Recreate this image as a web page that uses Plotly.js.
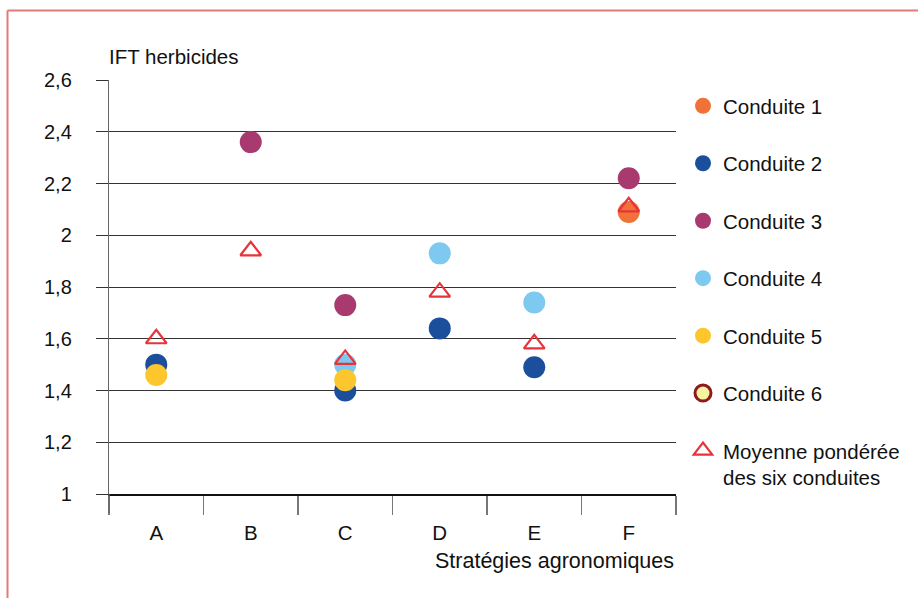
<!DOCTYPE html>
<html>
<head>
<meta charset="utf-8">
<script src="https://cdn.plot.ly/plotly-3.0.1.min.js"></script>
<style>html,body{margin:0;padding:0;background:#fff;}#chart{width:918px;height:598px;}</style>
</head>
<body>
<div id="chart"></div>
<script>
const categories = ['A', 'B', 'C', 'D', 'E', 'F'];
const conduite1 = [null, null, null, null, null, 2.09];
const conduite2 = [1.50, null, 1.40, 1.64, 1.49, null];
const conduite3 = [null, 2.36, 1.73, null, null, 2.22];
const conduite4 = [null, null, 1.50, 1.93, 1.74, null];
const conduite5 = [1.46, null, 1.44, null, null, null];
const conduite6 = [null, null, null, null, null, null];
const moyenne = [1.60, 1.94, 1.52, 1.78, 1.58, 2.11];
const yTicks = [1, 1.2, 1.4, 1.6, 1.8, 2, 2.2, 2.4, 2.6];
const yTickText = ['1', '1,2', '1,4', '1,6', '1,8', '2', '2,2', '2,4', '2,6'];

const FONT = 'Liberation Sans, Arial, sans-serif';
const FS = 20.5;
function circ(name, y, color, lineColor, lineWidth) {
  return {
    type: 'scatter', mode: 'markers', name: name, x: categories, y: y,
    legendgroup: name,
    marker: {symbol: 'circle', size: 22, color: color,
             line: {color: lineColor || color, width: lineWidth || 0}},
    cliponaxis: false
  };
}
const traces = [
  circ('Conduite 1', conduite1, '#F07238'),
  circ('Conduite 2', conduite2, '#1B4F9C'),
  circ('Conduite 3', conduite3, '#A83A6F'),
  circ('Conduite 4', conduite4, '#7DC9EF'),
  circ('Conduite 5', conduite5, '#FEC62D'),
  circ('Conduite 6', conduite6, '#F6F2A0', '#8E1B1B', 3),
  {type: 'scatter', mode: 'markers', name: 'Moyenne pondérée<br>des six conduites',
   legendgroup: 'moy', x: categories, y: moyenne,
   marker: {symbol: 'triangle-up-open', size: 18, color: '#E8333A', line: {width: 2.2, color: '#E8333A'}},
   cliponaxis: false}
];

const L = 109, R = 676, T = 80, B = 494;
const W = R - L, H = B - T;
const px = v => (v - L) / W;
const py = v => (B - v) / H;

const layout = {
  width: 918, height: 598,
  margin: {l: L, r: 918 - R, t: T, b: 598 - B, pad: 0},
  paper_bgcolor: '#fff', plot_bgcolor: '#fff',
  font: {family: FONT, size: FS, color: '#111'},
  showlegend: true,
  legend: {x: px(683), y: py(86), xanchor: 'left', yanchor: 'top',
           font: {family: FONT, size: FS, color: '#111'},
           tracegroupgap: 27.8, traceorder: 'grouped', valign: 'top',
           bgcolor: 'rgba(0,0,0,0)'},
  xaxis: {type: 'category', range: [-0.5, 5.5], showgrid: false, zeroline: false,
          showline: true, linecolor: '#111', linewidth: 2,
          ticks: 'outside', tickson: 'boundaries', ticklen: 19, tickcolor: '#777', tickwidth: 1.2,
          ticklabelstandoff: 19,
          tickfont: {family: FONT, size: FS, color: '#111'}, fixedrange: true},
  yaxis: {range: [1, 2.6], tickvals: yTicks, ticktext: yTickText,
          showgrid: true, gridcolor: '#333', gridwidth: 1, zeroline: false,
          showline: true, linecolor: '#666', linewidth: 1.2,
          ticks: 'outside', ticklen: 12, tickcolor: '#333', tickwidth: 1,
          ticklabelstandoff: 20,
          tickfont: {family: FONT, size: 20, color: '#111'}, fixedrange: true},
  annotations: [
    {xref: 'paper', yref: 'paper', x: px(107), y: py(57), xanchor: 'left', yanchor: 'middle',
     text: 'IFT herbicides', showarrow: false, font: {family: FONT, size: FS, color: '#111'}},
    {xref: 'paper', yref: 'paper', x: px(676), y: py(561), xanchor: 'right', yanchor: 'middle',
     text: 'Stratégies agronomiques', showarrow: false, font: {family: FONT, size: 21.5, color: '#111'}}
  ],
  shapes: [
    {type: 'line', xref: 'paper', yref: 'paper', x0: px(7.5), x1: px(918), y0: py(10.5), y1: py(10.5),
     line: {color: '#E07C78', width: 2}},
    {type: 'line', xref: 'paper', yref: 'paper', x0: px(7.5), x1: px(7.5), y0: py(10.5), y1: py(598),
     line: {color: '#E07C78', width: 2}},
    {type: 'line', xref: 'paper', yref: 'paper', x0: 0, x1: 0, y0: py(494), y1: py(513),
     line: {color: '#666', width: 1.2}}
  ]
};

Plotly.newPlot('chart', traces, layout, {displayModeBar: false, staticPlot: true});
</script>
</body>
</html>
